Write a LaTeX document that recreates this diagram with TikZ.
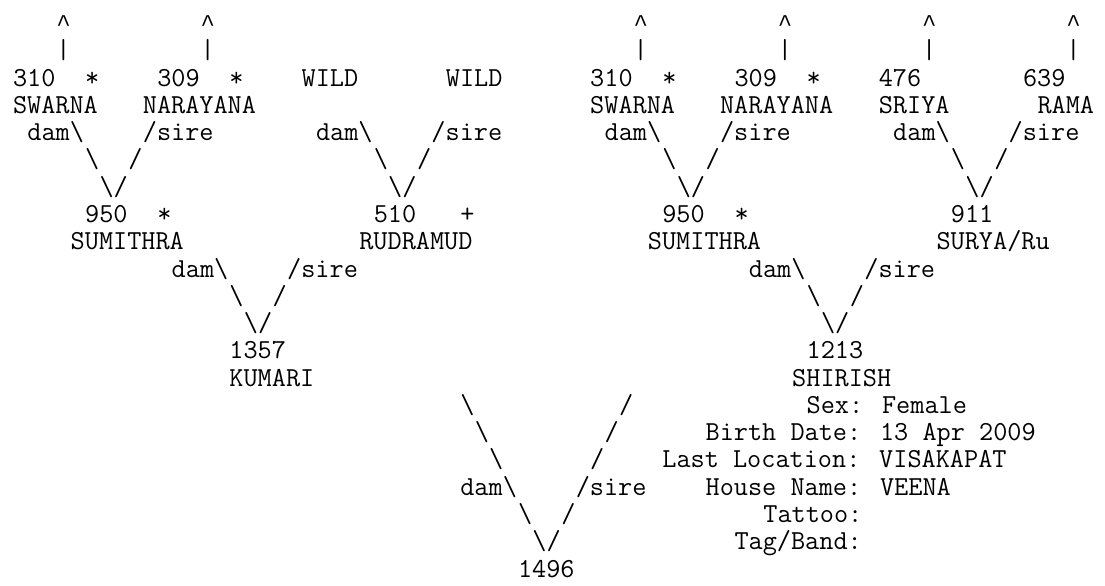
\documentclass[tikz,border=0pt]{standalone}
\usepackage{fontspec}
\newfontfamily\caretfont{Liberation Mono}
\newcommand\bsl{\textbackslash}
\newcommand\caret{{\caretfont\fontsize{18.04pt}{20pt}\selectfont\textasciicircum}}
\newcommand\ascitem[3]{\node[tok] (r#2c#1) at ({13+#1*14.43},{-31.5-(#2-1)*27.28}) {#3};}
\begin{document}
\begin{tikzpicture}[x=0.75pt,y=0.75pt,
  tok/.style={anchor=base west,inner sep=0pt,outer sep=0pt,text=black,
    font=\ttfamily\fontsize{20.6pt}{22pt}\selectfont}]
\useasboundingbox[fill=white] (0,0) rectangle (1105,-585);
% row 1 and 2: arrows to older generations
\foreach \c in {3,13,43,53,63,73}{
  \ascitem{\c}{1}{\caret}
  \ascitem{\c}{2}{\textbar}
}
% row 3
\ascitem{0}{3}{310}\ascitem{5}{3}{*}\ascitem{10}{3}{309}\ascitem{15}{3}{*}
\ascitem{20}{3}{WILD}\ascitem{30}{3}{WILD}
\ascitem{40}{3}{310}\ascitem{45}{3}{*}\ascitem{50}{3}{309}\ascitem{55}{3}{*}
\ascitem{60}{3}{476}\ascitem{70}{3}{639}
% row 4
\ascitem{0}{4}{SWARNA}\ascitem{9}{4}{NARAYANA}
\ascitem{40}{4}{SWARNA}\ascitem{49}{4}{NARAYANA}
\ascitem{60}{4}{SRIYA}\ascitem{71}{4}{RAMA}
% row 5
\foreach \c in {1,21,41,61}{\ascitem{\c}{5}{dam\bsl}}
\foreach \c in {9,29,49,69}{\ascitem{\c}{5}{/sire}}
% row 6
\foreach \c in {5,25,45,65}{\ascitem{\c}{6}{\bsl}}
\foreach \c in {8,28,48,68}{\ascitem{\c}{6}{/}}
% row 7
\foreach \c in {6,26,46,66}{\ascitem{\c}{7}{\bsl/}}
% row 8
\ascitem{5}{8}{950}\ascitem{10}{8}{*}\ascitem{25}{8}{510}\ascitem{31}{8}{+}
\ascitem{45}{8}{950}\ascitem{50}{8}{*}\ascitem{65}{8}{911}
% row 9
\ascitem{4}{9}{SUMITHRA}\ascitem{24}{9}{RUDRAMUD}
\ascitem{44}{9}{SUMITHRA}\ascitem{64}{9}{SURYA/Ru}
% row 10-12
\foreach \c in {11,51}{\ascitem{\c}{10}{dam\bsl}}
\foreach \c in {19,59}{\ascitem{\c}{10}{/sire}}
\foreach \c in {15,55}{\ascitem{\c}{11}{\bsl}}
\foreach \c in {18,58}{\ascitem{\c}{11}{/}}
\foreach \c in {16,56}{\ascitem{\c}{12}{\bsl/}}
% row 13-14
\ascitem{15}{13}{1357}\ascitem{55}{13}{1213}
\ascitem{15}{14}{KUMARI}\ascitem{54}{14}{SHIRISH}
% rows 15-21
\ascitem{31}{15}{\bsl}\ascitem{42}{15}{/}\ascitem{55}{15}{Sex: Female}
\ascitem{32}{16}{\bsl}\ascitem{41}{16}{/}\ascitem{48}{16}{Birth Date: 13 Apr 2009}
\ascitem{33}{17}{\bsl}\ascitem{40}{17}{/}\ascitem{45}{17}{Last Location: VISAKAPAT}
\ascitem{31}{18}{dam\bsl}\ascitem{39}{18}{/sire}\ascitem{48}{18}{House Name: VEENA}
\ascitem{35}{19}{\bsl}\ascitem{38}{19}{/}\ascitem{52}{19}{Tattoo:}
\ascitem{36}{20}{\bsl/}\ascitem{50}{20}{Tag/Band:}
\ascitem{35}{21}{1496}
\end{tikzpicture}
\end{document}
